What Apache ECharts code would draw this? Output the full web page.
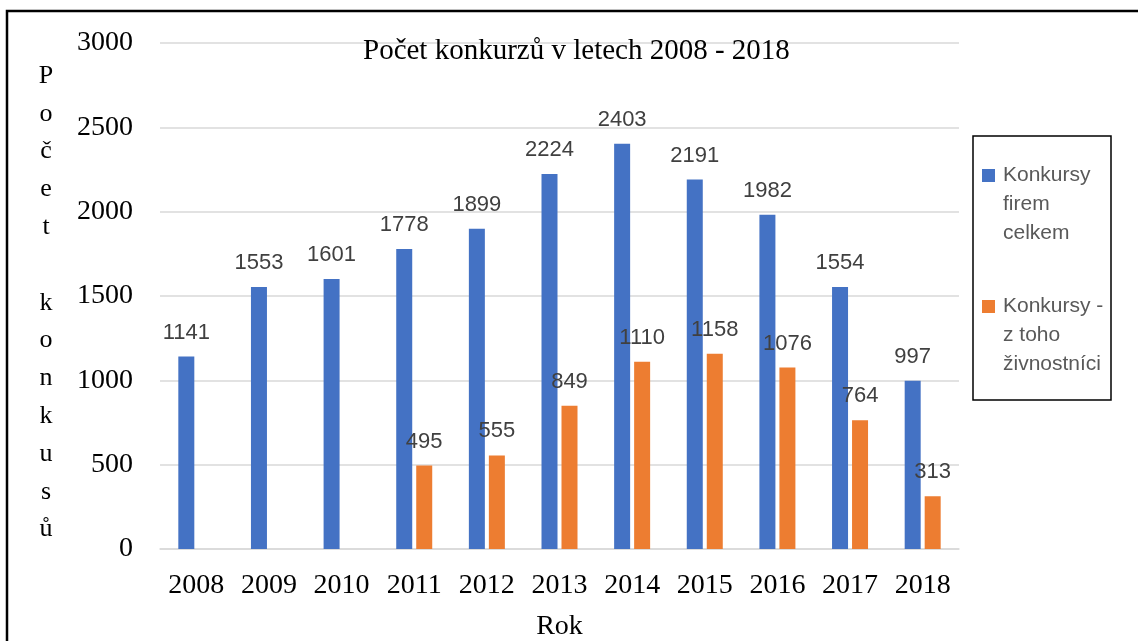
<!DOCTYPE html>
<html>
<head>
<meta charset="utf-8">
<script src="https://cdn.jsdelivr.net/npm/echarts@6/dist/echarts.min.js"></script>
<style>
  html, body { margin: 0; padding: 0; background: #fff; }
  #chart { width: 1138px; height: 641px; }
</style>
</head>
<body>
<div id="chart"></div>
<script>
const years = ['2008', '2009', '2010', '2011', '2012', '2013', '2014', '2015', '2016', '2017', '2018'];
const firmsTotal = [1141, 1553, 1601, 1778, 1899, 2224, 2403, 2191, 1982, 1554, 997];
const tradesmen = [null, null, null, 495, 555, 849, 1110, 1158, 1076, 764, 313];
const seriesNames = ['Konkursy firem celkem', 'Konkursy - z toho živnostníci'];
// two empty lines first so the first text line sits level with the legend icon
const legendLines = {
  'Konkursy firem celkem': '\n\nKonkursy\nfirem\ncelkem',
  'Konkursy - z toho živnostníci': '\n\nKonkursy -\nz toho\nživnostníci'
};
const yTitle = 'Počet konkusů';

const serif = "'Liberation Serif', 'Times New Roman', serif";
const sans = "'Liberation Sans', Arial, sans-serif";

const chart = echarts.init(document.getElementById('chart'));

const labelStyle = {
  show: true,
  position: 'top',
  distance: 13,
  color: '#404040',
  fontFamily: sans,
  fontSize: 22
};

const option = {
  animation: false,
  title: {
    text: 'Počet konkurzů v letech 2008 - 2018',
    left: 363,
    top: 37,
    padding: 0,
    textStyle: {
      fontFamily: serif,
      fontSize: 29,
      fontWeight: 'normal',
      color: '#000'
    }
  },
  legend: {
    orient: 'vertical',
    left: 982,
    top: 103,
    padding: 0,
    itemGap: -14,
    itemWidth: 13,
    itemHeight: 13,
    icon: 'rect',
    data: seriesNames,
    formatter: name => legendLines[name],
    textStyle: {
      fontFamily: sans,
      fontSize: 21,
      lineHeight: 29,
      color: '#595959',
      padding: [0, 0, 0, 3]
    }
  },
  graphic: [
    {
      type: 'rect',
      shape: { x: 7, y: 11, width: 1300, height: 800 },
      style: { fill: 'none', stroke: '#000', lineWidth: 2.5 },
      silent: true
    },
    {
      type: 'rect',
      shape: { x: 973, y: 136, width: 138, height: 264 },
      style: { fill: 'none', stroke: '#000', lineWidth: 1.5 },
      silent: true
    },
    {
      // vertical y axis title, one letter per line
      type: 'text',
      x: 46,
      y: 57,
      silent: true,
      style: {
        text: yTitle.split('').join('\n'),
        fontFamily: serif,
        fontSize: 26,
        lineHeight: 37.8,
        fill: '#000',
        align: 'center',
        verticalAlign: 'top'
      }
    }
  ],
  grid: {
    left: 160,
    right: 179,
    top: 43,
    bottom: 92,
    outerBoundsMode: 'none'
  },
  xAxis: {
    type: 'category',
    data: years,
    name: 'Rok',
    nameLocation: 'middle',
    nameGap: 64,
    nameTextStyle: {
      fontFamily: serif,
      fontSize: 28,
      color: '#000'
    },
    axisLine: { lineStyle: { color: '#d9d9d9', width: 1.5 } },
    axisTick: { show: false },
    axisLabel: {
      interval: 0,
      margin: 23,
      fontFamily: serif,
      fontSize: 28,
      color: '#000'
    }
  },
  yAxis: {
    type: 'value',
    min: 0,
    max: 3000,
    interval: 500,
    axisLine: { show: false },
    axisTick: { show: false },
    axisLabel: {
      margin: 27,
      fontFamily: serif,
      fontSize: 28,
      color: '#000',
      formatter: value => String(value)
    },
    splitLine: { lineStyle: { color: '#d9d9d9', width: 1.5 } }
  },
  series: [
    {
      name: seriesNames[0],
      type: 'bar',
      data: firmsTotal,
      barWidth: 16,
      barGap: '25%',
      itemStyle: { color: '#4472C4' },
      label: labelStyle
    },
    {
      name: seriesNames[1],
      type: 'bar',
      data: tradesmen,
      barWidth: 16,
      barGap: '25%',
      itemStyle: { color: '#ED7D31' },
      label: labelStyle
    }
  ]
};

chart.setOption(option);
</script>
</body>
</html>
